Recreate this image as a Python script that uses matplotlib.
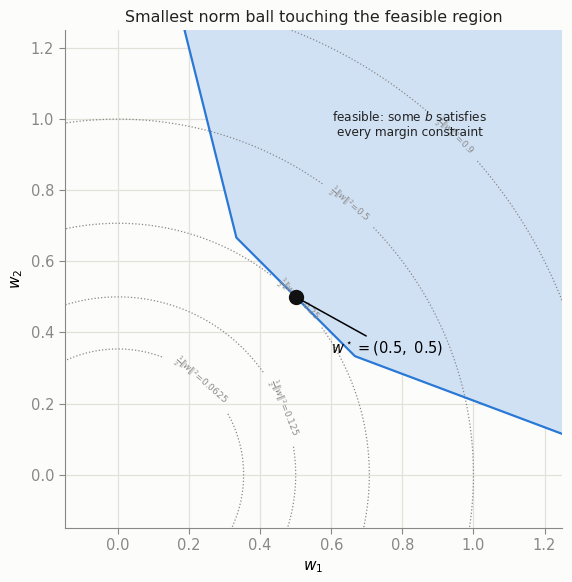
import numpy as np
import matplotlib
matplotlib.use("Agg")
import matplotlib.pyplot as plt

# data
boundary_w1 = [0.1875, 1/3, 2/3, 1.30]
boundary_w2 = [1.25, 2/3, 1/3, 0.0958]
levels = [0.0625, 0.125, 0.25, 0.5, 0.9]
label_pos = [(0.25, 0.285), (0.465, 0.188), (0.51, 0.495), (0.648, 0.758), (0.95, 0.955)]
w_star = (0.5, 0.5)
xlim = (-0.15, 1.25)
ylim = (-0.15, 1.25)
xticks = [0.0, 0.2, 0.4, 0.6, 0.8, 1.0, 1.2]
yticks = [0.0, 0.2, 0.4, 0.6, 0.8, 1.0, 1.2]

bg = "#fcfcfa"
fig = plt.figure(figsize=(5.72, 5.82), dpi=100, facecolor=bg)
ax = fig.add_axes([0.112, 0.0928, 0.872, 0.8552])
ax.set_facecolor(bg)

# feasible region
poly_x = boundary_w1 + [1.30, 0.1875]
poly_y = boundary_w2 + [1.30, 1.30]
ax.fill(poly_x + [boundary_w1[0]], poly_y + [boundary_w2[0]], color="#d1e1f4", zorder=1, lw=0)
ax.plot(boundary_w1, boundary_w2, color="#2a78d6", lw=1.6, zorder=3)

# contours
g = np.linspace(-0.2, 1.4, 600)
X, Y = np.meshgrid(g, g)
Z = 0.5 * (X**2 + Y**2)
cs = ax.contour(X, Y, Z, levels=levels, colors="#888888", linestyles=":", linewidths=0.9, zorder=2)
fmt = {lv: r"$\frac{1}{2}\|w\|^2$=" + f"{lv:g}" for lv in levels}
ax.clabel(cs, fmt=fmt, fontsize=6.5, manual=label_pos, inline=True, colors="#8c8c8c")

# optimum
ax.plot([w_star[0]], [w_star[1]], "o", color="#111111", ms=10, zorder=5)
ax.annotate(r"$w^\star = (0.5,\ 0.5)$", xy=w_star, xytext=(0.6, 0.357),
            ha="left", va="center", fontsize=10.5,
            arrowprops=dict(arrowstyle="-", color="black", lw=1.1, shrinkA=0, shrinkB=5), zorder=6)

ax.text(0.82, 0.985, "feasible: some $b$ satisfies\nevery margin constraint",
        ha="center", va="center", fontsize=8.7, color="#222222", zorder=6)

ax.set_xlim(*xlim)
ax.set_ylim(*ylim)
ax.set_aspect("equal", adjustable="box")
ax.set_xticks(xticks)
ax.set_yticks(yticks)
ax.grid(True, color="#e2e2da", lw=0.9, zorder=0)
ax.set_axisbelow(True)
for s in ["top", "right"]:
    ax.spines[s].set_visible(False)
for s in ["left", "bottom"]:
    ax.spines[s].set_color("#888888")
ax.tick_params(colors="#888888", labelsize=10.5, length=4)
ax.set_xlabel(r"$w_1$", fontsize=11)
ax.set_ylabel(r"$w_2$", fontsize=11)
ax.set_title("Smallest norm ball touching the feasible region", fontsize=11.4, color="#222222")

fig.savefig("out.png", dpi=100, facecolor=bg)
